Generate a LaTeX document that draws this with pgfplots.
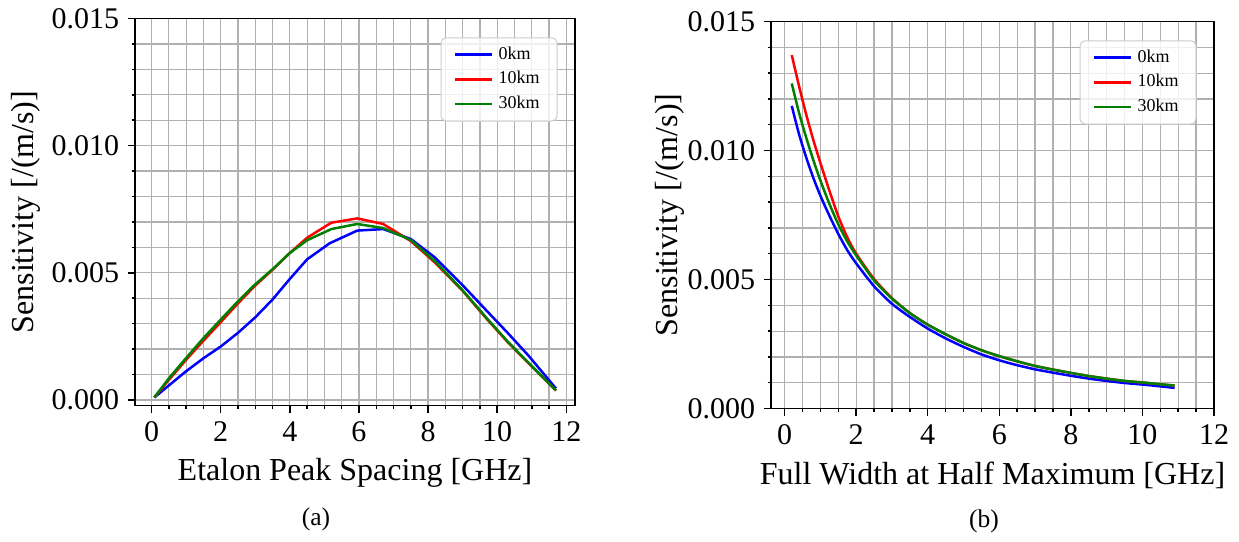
\documentclass[border=0pt]{standalone}
\usepackage{fontspec}
\setmainfont{Liberation Serif}
\usepackage{pgfplots}
\pgfplotsset{compat=1.18}
\definecolor{gridgray}{RGB}{176,176,176}
\definecolor{mplgreen}{RGB}{0,128,0}

\pgfplotsset{
  sens/.style={
    scale only axis,
    height=154.8pt,
    tick align=outside, tick pos=left,
    major tick length=2.8pt, minor tick length=1.4pt,
    tick style={black, line width=0.6pt},
    axis line style={line width=0.6pt},
    grid=both,
    major grid style={gridgray, line width=0.5pt},
    minor grid style={gridgray, line width=0.5pt},
    xtick={0,2,...,12}, minor x tick num=3,
    ytick={0,0.005,0.010,0.015}, minor y tick num=4,
    scaled y ticks=false,
    yticklabel style={/pgf/number format/.cd, fixed, fixed zerofill, precision=3},
    /pgf/number format/assume math mode=true,
    tick label style={font=\fontsize{12}{14}\selectfont},
    label style={font=\fontsize{12.8}{15}\selectfont},
    ylabel={Sensitivity [/(m/s)]},
    legend cell align=left,
    legend style={at={(1,1)}, anchor=north east, xshift=-7pt, yshift=-7.5pt,
      draw=black!20, rounded corners=2pt, fill=white, fill opacity=0.8, text opacity=1,
      font=\fontsize{7.2}{8}\selectfont, row sep=-0.6pt, inner xsep=5pt, inner ysep=1.5pt},
    legend image code/.code={\draw[#1] (0pt,0pt) -- (15pt,0pt);},
    every axis plot/.append style={line width=1pt},
  }
}

\begin{document}
\begin{tikzpicture}
\path (0,0) rectangle (495.6pt,-214.8pt);

% (a) etalon peak spacing
\begin{axis}[sens,
  at={(54pt,-161.6pt)}, anchor=south west, width=176pt,
  xmin=-0.48, xmax=12.25, ymin=-0.00022, ymax=0.015,
  xlabel={Etalon Peak Spacing [GHz]},
  ylabel style={yshift=-2.2pt},
]
\addplot[blue] table {
0.08 0.0001
0.5 0.00057
1.0 0.00113
1.5 0.00164
2.0 0.0021
2.5 0.00264
3.0 0.00325
3.5 0.00395
4.0 0.00476
4.5 0.00553
5.15 0.00616
5.95 0.00666
6.7 0.00672
7.5 0.00633
8.2 0.0056
9.0 0.00451
9.7 0.0035
10.3 0.00264
10.9 0.00175
11.7 0.00045
};
\addlegendentry{0km}
\addplot[red] table {
0.08 0.0001
0.5 0.00079
1.0 0.00158
1.5 0.00233
2.0 0.00306
2.5 0.0038
3.0 0.0045
3.5 0.00512
4.0 0.00578
4.5 0.00638
5.2 0.00697
5.95 0.00714
6.7 0.00692
7.5 0.00625
8.2 0.0054
9.0 0.00429
9.7 0.00318
10.3 0.00228
10.9 0.00145
11.7 0.00037
};
\addlegendentry{10km}
\addplot[mplgreen] table {
0.08 0.0001
0.5 0.00085
1.0 0.00165
1.5 0.00243
2.0 0.00316
2.5 0.00388
3.0 0.00455
3.5 0.00514
4.0 0.00578
4.5 0.00628
5.2 0.00672
5.95 0.00692
6.7 0.00676
7.5 0.00629
8.2 0.00545
9.0 0.00431
9.7 0.00321
10.3 0.0023
10.9 0.00147
11.7 0.00038
};
\addlegendentry{30km}
\end{axis}

% (b) full width at half maximum
\begin{axis}[sens,
  at={(308.4pt,-162.8pt)}, anchor=south west, width=177.2pt,
  xmin=-0.38, xmax=12, ymin=0, ymax=0.015,
  xlabel={Full Width at Half Maximum [GHz]},
  ylabel style={yshift=-5.6pt},
]
\addplot[blue, smooth, tension=0.4] table {
0.2 0.01173
0.4 0.01065
0.6 0.00975
0.8 0.00895
1.0 0.00825
1.25 0.00748
1.5 0.00677
1.75 0.00614
2.0 0.00563
2.5 0.00474
3.0 0.00406
3.5 0.00355
4.0 0.0031
4.5 0.00272
5.0 0.00239
5.5 0.0021
6.0 0.00187
6.5 0.00168
7.0 0.00152
7.5 0.00139
8.0 0.00127
8.5 0.00116
9.0 0.00107
9.5 0.00099
10.0 0.00093
10.5 0.00086
10.9 0.0008
};
\addlegendentry{0km}
\addplot[red, smooth, tension=0.4] table {
0.2 0.0137
0.4 0.01252
0.6 0.01142
0.8 0.01042
1.0 0.00952
1.25 0.00845
1.5 0.00745
1.75 0.00664
2.0 0.006
2.5 0.00502
3.0 0.00428
3.5 0.0037
4.0 0.00325
4.5 0.00288
5.0 0.00254
5.5 0.00226
6.0 0.00203
6.5 0.00183
7.0 0.00165
7.5 0.00151
8.0 0.00138
8.5 0.00126
9.0 0.00116
9.5 0.00107
10.0 0.00101
10.5 0.00094
10.9 0.00089
};
\addlegendentry{10km}
\addplot[mplgreen, smooth, tension=0.4] table {
0.2 0.0126
0.4 0.01148
0.6 0.01052
0.8 0.00964
1.0 0.00884
1.25 0.00794
1.5 0.00714
1.75 0.00648
2.0 0.00594
2.5 0.00497
3.0 0.00426
3.5 0.0037
4.0 0.00325
4.5 0.00288
5.0 0.00254
5.5 0.00226
6.0 0.00203
6.5 0.00183
7.0 0.00165
7.5 0.00151
8.0 0.00138
8.5 0.00126
9.0 0.00116
9.5 0.00107
10.0 0.00101
10.5 0.00094
10.9 0.00089
};
\addlegendentry{30km}
\end{axis}

\node[font=\fontsize{10.2}{12}\selectfont] at (126.4pt,-207.2pt) {(a)};
\node[font=\fontsize{10.2}{12}\selectfont] at (393.6pt,-208pt) {(b)};
\end{tikzpicture}
\end{document}
